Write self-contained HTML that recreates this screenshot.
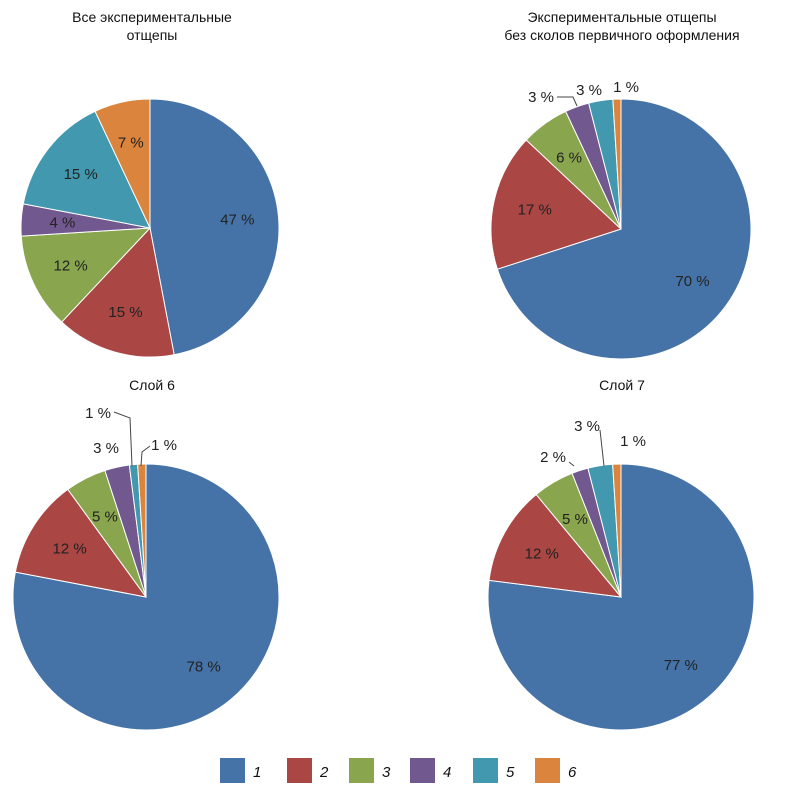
<!DOCTYPE html>
<html><head><meta charset="utf-8">
<style>
body{margin:0;background:#fff;width:805px;height:786px;overflow:hidden;font-family:"Liberation Sans",sans-serif}
svg text{font-family:"Liberation Sans",sans-serif}
</style></head>
<body>
<svg id="chart" width="805" height="786" xmlns="http://www.w3.org/2000/svg"></svg>
<script>
const colors=["#4573a7","#aa4643","#89a54e","#71588f","#4198af","#db843d"];
const categories=["1","2","3","4","5","6"];
const valuesAll=[47,15,12,4,15,7];
const valuesNoPrimary=[70,17,6,3,3,1];
const valuesLayer6=[78,12,5,3,1,1];
const valuesLayer7=[77,12,5,2,3,1];
const titles=[["Все экспериментальные","отщепы"],["Экспериментальные отщепы","без сколов первичного оформления"],["Слой 6"],["Слой 7"]];
const pies=[
 {v:valuesAll,cx:150,cy:228,r:129,tx:152,ty:22,ov:{}},
 {v:valuesNoPrimary,cx:621,cy:229,r:130,tx:622,ty:22,ov:{3:[541,102,[[557,97],[573,97],[577,106]]],4:[589,95,null],5:[626,92,null]}},
 {v:valuesLayer6,cx:146,cy:597,r:133,tx:152,ty:390,ov:{3:[106,453,null],4:[98,418,[[114,412],[130,418],[132,466]]],5:[164,450,[[150,446],[142,452],[141,466]]]}},
 {v:valuesLayer7,cx:621,cy:597,r:133,tx:622,ty:390,ov:{3:[553,462,[[569,462],[574,466]]],4:[587,431,[[600,430],[604,466]]],5:[633,446,null]}}
];
const svg=document.getElementById('chart');
const NS="http://www.w3.org/2000/svg";
function mk(t,a){const e=document.createElementNS(NS,t);for(const k in a)e.setAttribute(k,a[k]);svg.appendChild(e);return e;}
pies.forEach((p,pi)=>{
 titles[pi].forEach((line,li)=>{
  const t=mk('text',{x:p.tx,y:p.ty+li*18,'text-anchor':'middle','font-size':'14',fill:'#111'});
  
  
  t.textContent=line;
 });
 const total=p.v.reduce((a,b)=>a+b,0);
 let a0=0;
 p.v.forEach((val,i)=>{
  const a1=a0+val/total*2*Math.PI;
  const x0=p.cx+p.r*Math.sin(a0),y0=p.cy-p.r*Math.cos(a0);
  const x1=p.cx+p.r*Math.sin(a1),y1=p.cy-p.r*Math.cos(a1);
  const large=(a1-a0)>Math.PI?1:0;
  const path=mk('path',{d:`M${p.cx},${p.cy}L${x0},${y0}A${p.r},${p.r} 0 ${large} 1 ${x1},${y1}Z`,fill:colors[i],stroke:'#fff','stroke-width':'1'});
  
  
  const am=(a0+a1)/2;
  let lx=p.cx+0.68*p.r*Math.sin(am),ly=p.cy-0.68*p.r*Math.cos(am)+5;
  const o=p.ov[i];
  if(o){lx=o[0];ly=o[1];
   if(o[2]){const pl=mk('polyline',{points:o[2].map(q=>q.join(',')).join(' '),fill:'none',stroke:'#444','stroke-width':'1'});
    
    }
  }
  const t=mk('text',{x:lx,y:ly,'text-anchor':'middle','font-size':'15',fill:'#222'});
  
  
  t.textContent=val+' %';
  a0=a1;
 });
});
const legendX=[220,287,349,410,473,535];
categories.forEach((c,i)=>{
 const r=mk('rect',{x:legendX[i],y:758,width:25,height:25,fill:colors[i]});
 
 
 const t=mk('text',{x:legendX[i]+33,y:777,'font-size':'15','font-style':'italic',fill:'#111'});
 
 
 t.textContent=c;
});
</script>
</body></html>
